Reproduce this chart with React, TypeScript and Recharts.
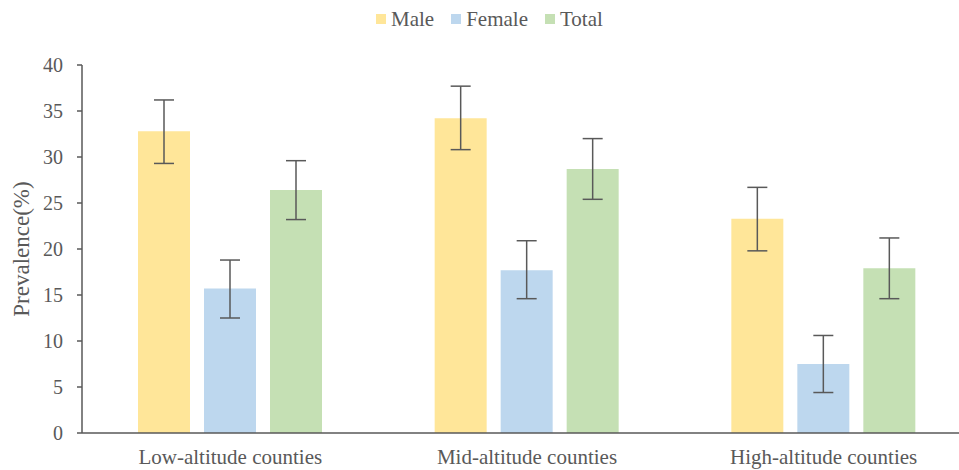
import { Bar, ComposedChart, ErrorBar, Label, Legend, XAxis, YAxis } from 'recharts'

const categories = ['Low-altitude counties', 'Mid-altitude counties', 'High-altitude counties']

const maleValues = [32.8, 34.2, 23.3]
const maleLow = [29.3, 30.8, 19.8]
const maleHigh = [36.2, 37.7, 26.7]

const femaleValues = [15.7, 17.7, 7.5]
const femaleLow = [12.5, 14.6, 4.4]
const femaleHigh = [18.8, 20.9, 10.6]

const totalValues = [26.4, 28.7, 17.9]
const totalLow = [23.2, 25.4, 14.6]
const totalHigh = [29.6, 32.0, 21.2]

const yTicks = [0, 5, 10, 15, 20, 25, 30, 35, 40]

const series = [
  { key: 'male', name: 'Male', color: '#FFE699' },
  { key: 'female', name: 'Female', color: '#BDD7EE' },
  { key: 'total', name: 'Total', color: '#C5E0B4' },
]

const data = categories.map((c, i) => ({
  name: c,
  male: maleValues[i],
  maleErr: [maleValues[i] - maleLow[i], maleHigh[i] - maleValues[i]],
  female: femaleValues[i],
  femaleErr: [femaleValues[i] - femaleLow[i], femaleHigh[i] - femaleValues[i]],
  total: totalValues[i],
  totalErr: [totalValues[i] - totalLow[i], totalHigh[i] - totalValues[i]],
}))

const font = '"Liberation Serif", "Times New Roman", serif'
const grey = '#595959'

function LegendRow() {
  return (
    <div style={{ display: 'flex', alignItems: 'center', fontFamily: font, fontSize: 21, color: grey, lineHeight: '24px' }}>
      {series.map((s) => (
        <div key={s.key} style={{ display: 'flex', alignItems: 'center', marginRight: 17 }}>
          <span style={{ width: 10, height: 10, background: s.color, marginRight: 5, display: 'inline-block' }} />
          <span style={{ fontFamily: font }}>{s.name}</span>
        </div>
      ))}
    </div>
  )
}

export default function App() {
  return (
    <div style={{ position: 'absolute', left: 0, top: 0, width: 959, height: 470, overflow: 'hidden', background: '#fff', fontFamily: font }}>
      <ComposedChart
        width={980}
        height={470}
        data={data}
        margin={{ top: 65, right: 8, bottom: 7, left: 0 }}
        barSize={52}
        barGap={14}
      >
        <XAxis
          dataKey="name"
          height={30}
          tickLine={false}
          axisLine={{ stroke: grey, strokeWidth: 1.5 }}
          tick={{ fill: grey, fontSize: 21, fontFamily: font }}
          tickMargin={10}
          interval={0}
        />
        <YAxis
          domain={[0, 40]}
          ticks={yTicks}
          width={82}
          tickSize={5}
          tickMargin={14}
          axisLine={{ stroke: grey, strokeWidth: 1.5 }}
          tickLine={{ stroke: grey, strokeWidth: 1.5 }}
          tick={{ fill: grey, fontSize: 20, fontFamily: font }}
        >
          <Label
            content={({ viewBox }: any) => {
              const cy = viewBox.y + viewBox.height / 2
              return (
                <text
                  x={29}
                  y={cy}
                  transform={`rotate(-90, 29, ${cy})`}
                  textAnchor="middle"
                  fill={grey}
                  fontSize={23}
                  fontFamily={font}
                >
                  Prevalence(%)
                </text>
              )
            }}
          />
        </YAxis>
        <Legend
          layout="vertical"
          align="center"
          verticalAlign="middle"
          wrapperStyle={{ top: 7, left: 376, width: 'auto', height: 'auto' }}
          content={() => <LegendRow />}
        />
        {series.map((s) => (
          <Bar key={s.key} dataKey={s.key} name={s.name} fill={s.color} isAnimationActive={false}>
            <ErrorBar dataKey={`${s.key}Err`} width={10} stroke={grey} strokeWidth={1.5} direction="y" />
          </Bar>
        ))}
      </ComposedChart>
    </div>
  )
}
